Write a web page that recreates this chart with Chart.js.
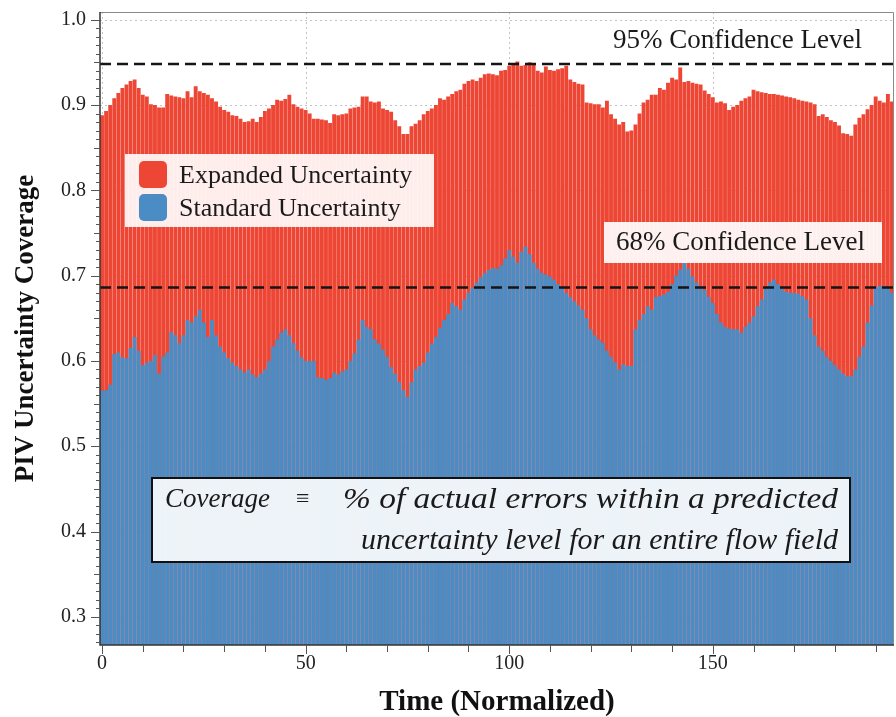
<!DOCTYPE html>
<html>
<head>
<meta charset="utf-8">
<script src="https://cdn.jsdelivr.net/npm/chart.js@4.4.1/dist/chart.umd.min.js"></script>
<style>
  html, body { margin: 0; padding: 0; background: #fff; }
</style>
</head>
<body>
<canvas id="coverageChart" width="896" height="717"></canvas>
<script>
// time steps (categories)
const timeSteps = Array.from({ length: 195 }, (_, i) => i);

// coverage of expanded uncertainty (red)
const expandedCoverage = [
  0.888, 0.893, 0.900, 0.908, 0.914, 0.920, 0.924, 0.928, 0.930, 0.920,
  0.912, 0.910, 0.901, 0.900, 0.897, 0.897, 0.913, 0.911, 0.910, 0.909,
  0.908, 0.916, 0.909, 0.922, 0.916, 0.914, 0.912, 0.908, 0.904, 0.898,
  0.894, 0.892, 0.888, 0.887, 0.884, 0.880, 0.881, 0.884, 0.880, 0.886,
  0.893, 0.896, 0.900, 0.906, 0.905, 0.907, 0.912, 0.901, 0.898, 0.896,
  0.894, 0.890, 0.884, 0.884, 0.883, 0.882, 0.879, 0.889, 0.888, 0.889,
  0.890, 0.896, 0.897, 0.898, 0.910, 0.910, 0.904, 0.903, 0.904, 0.896,
  0.894, 0.892, 0.882, 0.875, 0.866, 0.866, 0.875, 0.878, 0.882, 0.889,
  0.893, 0.896, 0.900, 0.908, 0.906, 0.910, 0.913, 0.916, 0.918, 0.925,
  0.928, 0.930, 0.928, 0.932, 0.936, 0.937, 0.936, 0.935, 0.940, 0.941,
  0.946, 0.948, 0.951, 0.946, 0.947, 0.950, 0.949, 0.940, 0.938, 0.945,
  0.941, 0.940, 0.942, 0.943, 0.946, 0.930, 0.927, 0.925, 0.924, 0.903,
  0.902, 0.901, 0.901, 0.897, 0.905, 0.889, 0.884, 0.877, 0.880, 0.869,
  0.870, 0.877, 0.890, 0.903, 0.906, 0.912, 0.912, 0.920, 0.918, 0.926,
  0.932, 0.930, 0.944, 0.927, 0.928, 0.926, 0.925, 0.924, 0.917, 0.913,
  0.909, 0.903, 0.904, 0.902, 0.894, 0.898, 0.900, 0.905, 0.908, 0.910,
  0.918, 0.916, 0.915, 0.914, 0.913, 0.913, 0.912, 0.911, 0.910, 0.909,
  0.908, 0.906, 0.905, 0.904, 0.903, 0.901, 0.887, 0.889, 0.886, 0.882,
  0.880, 0.876, 0.867, 0.866, 0.864, 0.877, 0.885, 0.889, 0.895, 0.900,
  0.910, 0.905, 0.903, 0.913, 0.904
];

// coverage of standard uncertainty (blue)
const standardCoverage = [
  0.565, 0.566, 0.572, 0.608, 0.610, 0.604, 0.603, 0.615, 0.628, 0.612,
  0.595, 0.598, 0.600, 0.607, 0.585, 0.605, 0.610, 0.634, 0.630, 0.621,
  0.630, 0.648, 0.645, 0.652, 0.660, 0.645, 0.628, 0.648, 0.630, 0.617,
  0.610, 0.603, 0.598, 0.594, 0.590, 0.586, 0.590, 0.584, 0.581, 0.585,
  0.590, 0.600, 0.617, 0.625, 0.633, 0.637, 0.630, 0.621, 0.612, 0.604,
  0.600, 0.600, 0.600, 0.581, 0.580, 0.578, 0.580, 0.586, 0.584, 0.588,
  0.590, 0.600, 0.609, 0.625, 0.648, 0.640, 0.637, 0.625, 0.620, 0.613,
  0.605, 0.593, 0.585, 0.575, 0.566, 0.558, 0.575, 0.590, 0.594, 0.598,
  0.610, 0.620, 0.628, 0.639, 0.648, 0.655, 0.668, 0.664, 0.660, 0.672,
  0.680, 0.686, 0.692, 0.698, 0.703, 0.707, 0.709, 0.708, 0.712, 0.720,
  0.730, 0.722, 0.715, 0.728, 0.734, 0.725, 0.715, 0.708, 0.703, 0.701,
  0.699, 0.695, 0.690, 0.687, 0.680, 0.675, 0.670, 0.665, 0.660, 0.650,
  0.637, 0.630, 0.625, 0.621, 0.612, 0.605, 0.598, 0.590, 0.596, 0.594,
  0.594, 0.637, 0.648, 0.655, 0.664, 0.660, 0.675, 0.676, 0.678, 0.681,
  0.690, 0.700, 0.707, 0.715, 0.708, 0.699, 0.692, 0.688, 0.683, 0.675,
  0.668, 0.655, 0.645, 0.640, 0.638, 0.637, 0.637, 0.633, 0.640, 0.645,
  0.652, 0.664, 0.672, 0.685, 0.692, 0.695, 0.690, 0.684, 0.681, 0.680,
  0.680, 0.679, 0.676, 0.672, 0.650, 0.630, 0.617, 0.612, 0.605, 0.600,
  0.595, 0.590, 0.585, 0.582, 0.582, 0.590, 0.605, 0.617, 0.645, 0.665,
  0.686, 0.688, 0.688, 0.685, 0.680
];

// tick labels
const yTickValues = [0.3, 0.4, 0.5, 0.6, 0.7, 0.8, 0.9, 1.0];
const xTickLabels = [0, 50, 100, 150];

// confidence levels (dashed lines)
const confidenceValues = [0.948, 0.686];
const confidenceLabels = ['95% Confidence Level', '68% Confidence Level'];

const RED = '#ed4634';
const BLUE = '#4b8cc4';
const SERIF = '"Liberation Serif", "DejaVu Serif", serif';

// text squeezed or widened to a given width
function fitText(ctx, text, x, y, width) {
  const sx = width / ctx.measureText(text).width;
  ctx.save();
  ctx.translate(x, y);
  ctx.scale(sx, 1);
  ctx.fillText(text, 0, 0);
  ctx.restore();
}

const decorPlugin = {
  id: 'decor',
  beforeDatasetsDraw(chart) {
    const { ctx, chartArea: a, scales: { x, y } } = chart;
    ctx.save();
    ctx.strokeStyle = '#c4c4c4';
    ctx.lineWidth = 1;
    ctx.setLineDash([2, 3]);
    yTickValues.forEach(v => {
      const py = Math.round(y.getPixelForValue(v)) + 0.5;
      ctx.beginPath(); ctx.moveTo(a.left, py); ctx.lineTo(a.right, py); ctx.stroke();
    });
    xTickLabels.forEach(v => {
      const px = Math.round(x.getPixelForValue(v)) + 0.5;
      ctx.beginPath(); ctx.moveTo(px, a.top); ctx.lineTo(px, a.bottom); ctx.stroke();
    });
    ctx.restore();
  },
  afterDatasetsDraw(chart) {
    const { ctx, chartArea: a, scales: { x, y } } = chart;
    ctx.save();

    // confidence lines
    ctx.strokeStyle = '#151515';
    ctx.lineWidth = 2.5;
    ctx.setLineDash([11, 6]);
    confidenceValues.forEach(v => {
      const py = y.getPixelForValue(v);
      ctx.beginPath(); ctx.moveTo(a.left, py); ctx.lineTo(a.right, py); ctx.stroke();
    });
    ctx.setLineDash([]);

    // frame
    ctx.lineWidth = 1;
    ctx.strokeStyle = '#8a8a8a';
    ctx.beginPath();
    ctx.moveTo(a.left, a.top + 0.5); ctx.lineTo(a.right - 0.5, a.top + 0.5); ctx.lineTo(a.right - 0.5, a.bottom);
    ctx.stroke();
    ctx.strokeStyle = '#333';
    ctx.lineWidth = 1.5;
    ctx.beginPath();
    ctx.moveTo(a.left, a.top); ctx.lineTo(a.left, a.bottom); ctx.lineTo(a.right, a.bottom);
    ctx.stroke();

    // tick marks
    ctx.lineWidth = 1;
    ctx.strokeStyle = '#555';
    for (let k = 27; k <= 100; k++) {
      const py = Math.round(y.getPixelForValue(k / 100)) + 0.5;
      const len = k % 10 === 0 ? 9 : (k % 5 === 0 ? 6 : 4);
      ctx.beginPath(); ctx.moveTo(a.left - len, py); ctx.lineTo(a.left, py); ctx.stroke();
    }
    for (let i = 0; i < timeSteps.length; i += 10) {
      const px = Math.round(x.getPixelForValue(i)) + 0.5;
      const len = i % 50 === 0 ? 9 : 7;
      ctx.beginPath(); ctx.moveTo(px, a.bottom); ctx.lineTo(px, a.bottom + len); ctx.stroke();
    }

    // confidence labels
    ctx.textBaseline = 'middle';
    ctx.textAlign = 'left';
    ctx.fillStyle = 'rgba(255,255,255,0.92)';
    ctx.fillRect(604, 222, 278, 41);
    ctx.fillStyle = '#1a1a1a';
    ctx.font = '27px ' + SERIF;
    ctx.fillText(confidenceLabels[0], 613, 41);
    ctx.fillText(confidenceLabels[1], 616, 243);

    // legend
    ctx.fillStyle = 'rgba(255,255,255,0.9)';
    ctx.fillRect(125, 154, 309, 73);
    const swatch = (color, sy) => {
      ctx.fillStyle = color;
      ctx.beginPath();
      if (ctx.roundRect) ctx.roundRect(139, sy, 28, 27, 5); else ctx.rect(139, sy, 28, 27);
      ctx.fill();
    };
    swatch(RED, 161);
    swatch(BLUE, 194);
    ctx.fillStyle = '#1a1a1a';
    ctx.font = '26px ' + SERIF;
    ctx.fillText('Expanded Uncertainty', 179, 176);
    ctx.fillText('Standard Uncertainty', 179, 209);

    // coverage definition
    ctx.fillStyle = 'rgba(255,255,255,0.9)';
    ctx.fillRect(152, 478, 698, 84);
    ctx.strokeStyle = '#111';
    ctx.lineWidth = 2;
    ctx.strokeRect(152, 478, 698, 84);
    ctx.fillStyle = '#1a1a1a';
    ctx.font = 'italic 27px ' + SERIF;
    ctx.fillText('Coverage', 165, 500);
    ctx.font = '24px ' + SERIF;
    ctx.fillText('\u2261', 296, 500);
    ctx.font = 'italic 30px ' + SERIF;
    fitText(ctx, '% of actual errors within a predicted', 343, 500, 495);
    ctx.textAlign = 'right';
    ctx.fillText('uncertainty level for an entire flow field', 838, 541);

    ctx.restore();
  }
};

const ctx = document.getElementById('coverageChart').getContext('2d');
new Chart(ctx, {
  type: 'bar',
  data: {
    labels: timeSteps,
    datasets: [
      {
        label: 'Standard Uncertainty',
        data: standardCoverage,
        backgroundColor: BLUE,
        grouped: false,
        order: 0
      },
      {
        label: 'Expanded Uncertainty',
        data: expandedCoverage,
        backgroundColor: RED,
        grouped: false,
        order: 1
      }
    ]
  },
  options: {
    responsive: false,
    devicePixelRatio: 1,
    animation: false,
    barPercentage: 0.95,
    categoryPercentage: 1,
    layout: { padding: { top: 12, right: 2, left: 0, bottom: 0 } },
    plugins: { legend: { display: false }, tooltip: { enabled: false } },
    scales: {
      x: {
        grid: { display: false, drawTicks: false },
        border: { display: false },
        ticks: {
          autoSkip: false,
          maxRotation: 0,
          padding: 7,
          color: '#222',
          font: { family: SERIF, size: 20 },
          callback: (value, index) => xTickLabels.includes(index) ? String(timeSteps[index]) : null
        },
        title: {
          display: true,
          text: 'Time (Normalized)',
          color: '#111',
          font: { family: SERIF, size: 29, weight: 'bold', lineHeight: 1 },
          padding: { top: 0, bottom: 0 }
        },
        afterFit(scale) {
          scale.height = 72;
          scale.paddingLeft = 0;
          scale.paddingRight = 0;
        }
      },
      y: {
        min: 0.267,
        max: 1.009,
        grid: { display: false, drawTicks: false },
        border: { display: false },
        afterBuildTicks(scale) { scale.ticks = yTickValues.map(v => ({ value: v })); },
        ticks: {
          padding: 14,
          color: '#222',
          font: { family: SERIF, size: 20 },
          callback: v => Number(v).toFixed(1)
        },
        title: {
          display: true,
          text: 'PIV Uncertainty Coverage',
          color: '#111',
          font: { family: SERIF, size: 27, weight: 'bold', lineHeight: 1 },
          padding: { top: 13, bottom: 0 }
        },
        afterFit(scale) {
          scale.width = 100;
          scale.paddingTop = 0;
          scale.paddingBottom = 0;
        }
      }
    }
  },
  plugins: [decorPlugin]
});
</script>
</body>
</html>
